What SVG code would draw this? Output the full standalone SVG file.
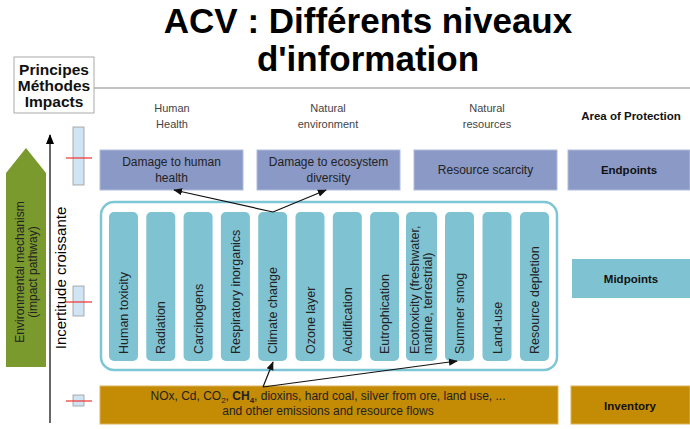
<svg xmlns="http://www.w3.org/2000/svg" width="690" height="429" viewBox="0 0 690 429">
<style>
text{font-family:"Liberation Sans",Arial,sans-serif;}
.title{font-size:35px;font-weight:bold;fill:#000;text-anchor:middle;}
.hdr{font-size:11px;fill:#444;text-anchor:middle;}
.lvl{font-size:11.5px;font-weight:bold;fill:#111;text-anchor:middle;}
.pm{font-size:15.5px;font-weight:bold;fill:#111;text-anchor:middle;}
.ep{fill:#8a99c6;stroke:#b0bbdc;stroke-width:1;}
.mp{fill:#7fc3d3;}
.inv{fill:#c48b05;stroke:#dcb45a;stroke-width:1;}
.t12{font-size:12px;fill:#222;text-anchor:middle;}
.bar{font-size:12.5px;fill:#222;}
.unc{fill:#cfe5f3;stroke:#999;stroke-width:0.8;}
.red{stroke:#f03030;stroke-width:1.2;}
.conn{stroke:#111;stroke-width:1.2;fill:none;marker-end:url(#ah);}
</style>
<defs>
<marker id="ah" viewBox="0 0 10 10" refX="9" refY="5" markerWidth="9" markerHeight="9" markerUnits="userSpaceOnUse" orient="auto">
<path d="M0,1 L10,5 L0,9 Z" fill="#111"/>
</marker>
<marker id="ah2" viewBox="0 0 10 10" refX="9" refY="5" markerWidth="10" markerHeight="10" markerUnits="userSpaceOnUse" orient="auto">
<path d="M0,1 L10,5 L0,9 Z" fill="#000"/>
</marker>
</defs>
<rect width="690" height="429" fill="#fff"/>

<g id="title">
<text class="title" x="368" y="33">ACV : Différents niveaux</text>
<text class="title" x="368" y="71">d'information</text>
</g>

<g id="principes">
<line x1="94" y1="88" x2="690" y2="88" stroke="#888" stroke-width="1.2"/>
<rect x="14" y="57" width="80" height="56" fill="#fff" stroke="#aaa" stroke-width="1"/>
<text class="pm" x="54" y="75">Principes</text>
<text class="pm" x="54" y="91">Méthodes</text>
<text class="pm" x="54" y="107">Impacts</text>
</g>

<g id="headers">
<text class="hdr" x="172" y="112">Human</text>
<text class="hdr" x="172" y="128">Health</text>
<text class="hdr" x="328" y="112">Natural</text>
<text class="hdr" x="328" y="128">environment</text>
<text class="hdr" x="487" y="112">Natural</text>
<text class="hdr" x="487" y="128">resources</text>
<text class="lvl" x="631" y="120">Area of Protection</text>
</g>

<g id="env-mechanism">
<path d="M6,173 L26,148 L46,173 L46,367 L6,367 Z" fill="#7a9a2e"/>
<text transform="translate(24,272) rotate(-90)" font-size="12" fill="#222" text-anchor="middle">Environmental mechanism</text>
<text transform="translate(37,272) rotate(-90)" font-size="12" fill="#222" text-anchor="middle">(impact pathway)</text>
</g>

<g id="uncertainty">
<line x1="50" y1="423" x2="50" y2="135" stroke="#000" stroke-width="1.2" marker-end="url(#ah2)"/>
<text transform="translate(66,278) rotate(-90)" font-size="15" fill="#000" text-anchor="middle">Incertitude croissante</text>
<rect class="unc" x="73" y="127" width="11" height="58"/>
<line class="red" x1="66" y1="158" x2="92" y2="158"/>
<rect class="unc" x="73" y="286" width="11" height="30"/>
<line class="red" x1="66" y1="302" x2="92" y2="302"/>
<rect class="unc" x="73" y="395" width="11" height="11"/>
<line class="red" x1="66" y1="401" x2="92" y2="401"/>
</g>

<g id="endpoint-human">
<rect class="ep" x="100" y="150" width="143" height="40"/>
<text class="t12" x="171.5" y="166">Damage to human</text>
<text class="t12" x="171.5" y="182">health</text>
</g>
<g id="endpoint-ecosystem">
<rect class="ep" x="257" y="150" width="143" height="40"/>
<text class="t12" x="328.5" y="166">Damage to ecosystem</text>
<text class="t12" x="328.5" y="182">diversity</text>
</g>
<g id="endpoint-resource">
<rect class="ep" x="414" y="150" width="143" height="40"/>
<text class="t12" x="485.5" y="174">Resource scarcity</text>
</g>
<g id="endpoints-label">
<rect class="ep" x="568" y="150" width="122" height="40"/>
<text class="lvl" x="629" y="174" font-size="12">Endpoints</text>
</g>

<g id="midpoints-container">
<rect x="101" y="202" width="456" height="168" rx="13" fill="#fff" stroke="#7ec6d6" stroke-width="2.5"/>
</g>
<g id="mp-human-toxicity"><rect class="mp" x="109" y="212" width="29" height="149" rx="5"/><text class="bar" transform="translate(128,354) rotate(-90)">Human toxicity</text></g>
<g id="mp-radiation"><rect class="mp" x="146.3" y="212" width="29" height="149" rx="5"/><text class="bar" transform="translate(165.3,354) rotate(-90)">Radiation</text></g>
<g id="mp-carcinogens"><rect class="mp" x="183.6" y="212" width="29" height="149" rx="5"/><text class="bar" transform="translate(202.6,354) rotate(-90)">Carcinogens</text></g>
<g id="mp-respiratory"><rect class="mp" x="220.9" y="212" width="29" height="149" rx="5"/><text class="bar" transform="translate(239.9,354) rotate(-90)">Respiratory  inorganics</text></g>
<g id="mp-climate"><rect class="mp" x="258.2" y="212" width="29" height="149" rx="5"/><text class="bar" transform="translate(277.2,354) rotate(-90)">Climate change</text></g>
<g id="mp-ozone"><rect class="mp" x="295.5" y="212" width="29" height="149" rx="5"/><text class="bar" transform="translate(314.5,354) rotate(-90)">Ozone layer</text></g>
<g id="mp-acidification"><rect class="mp" x="332.8" y="212" width="29" height="149" rx="5"/><text class="bar" transform="translate(351.8,354) rotate(-90)">Acidification</text></g>
<g id="mp-eutrophication"><rect class="mp" x="370.1" y="212" width="29" height="149" rx="5"/><text class="bar" transform="translate(389.1,354) rotate(-90)">Eutrophication</text></g>
<g id="mp-ecotoxicity"><rect class="mp" x="406" y="212" width="31" height="149" rx="5"/><text class="bar" transform="translate(419,354) rotate(-90)">Ecotoxicity (freshwater,</text><text class="bar" transform="translate(432,354) rotate(-90)">marine,  terrestrial)</text></g>
<g id="mp-summer-smog"><rect class="mp" x="445" y="212" width="29" height="149" rx="5"/><text class="bar" transform="translate(464,354) rotate(-90)">Summer smog</text></g>
<g id="mp-land-use"><rect class="mp" x="482.5" y="212" width="29" height="149" rx="5"/><text class="bar" transform="translate(501.5,354) rotate(-90)">Land-use</text></g>
<g id="mp-resource-depletion"><rect class="mp" x="520" y="212" width="29" height="149" rx="5"/><text class="bar" transform="translate(539,354) rotate(-90)">Resource  depletion</text></g>

<g id="midpoints-label">
<rect class="mp" x="572" y="259" width="118" height="39"/>
<text class="lvl" x="631" y="283" font-size="12">Midpoints</text>
</g>

<g id="inventory">
<rect class="inv" x="100" y="386" width="458" height="38"/>
<text class="t12" x="328" y="400">NOx, Cd, CO<tspan font-size="8" dy="3">2</tspan><tspan dy="-3">, </tspan><tspan font-weight="bold">CH</tspan><tspan font-size="8" font-weight="bold" dy="3">4</tspan><tspan dy="-3">, dioxins, hard coal, silver from ore, land use, ...</tspan></text>
<text class="t12" x="328" y="415">and other emissions and resource flows</text>
</g>
<g id="inventory-label">
<rect class="inv" x="571" y="386" width="119" height="38"/>
<text class="lvl" x="630" y="410" font-size="12">Inventory</text>
</g>

<g id="connectors">
<polyline class="conn" points="273,212 174,190"/>
<polyline class="conn" points="273,212 326,190"/>
<polyline class="conn" points="263,387 273,362"/>
<polyline class="conn" points="263,387 457,361"/>
</g>
</svg>
